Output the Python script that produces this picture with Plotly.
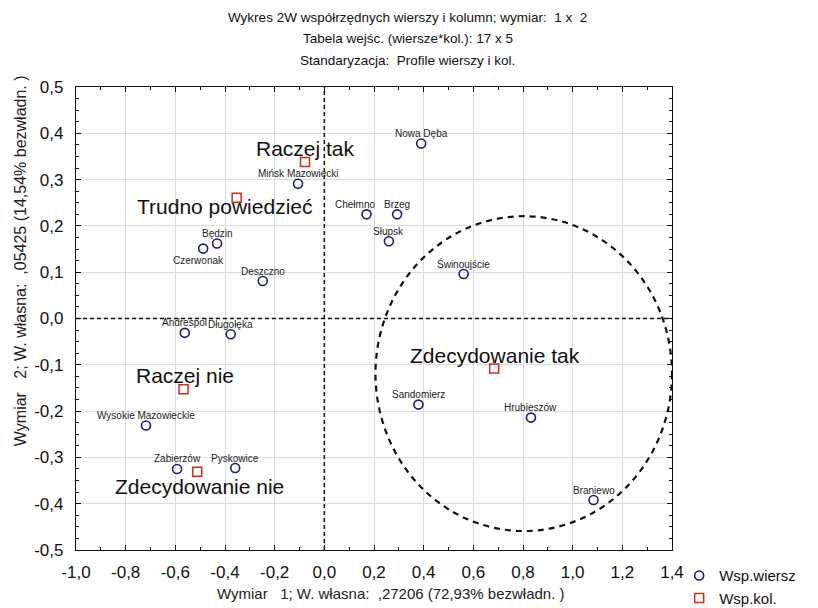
import plotly.graph_objects as go

# ---- data ----
row_names = ["Nowa Dęba", "Mińsk Mazowiecki", "Chełmno", "Brzeg", "Słupsk", "Świnoujście",
             "Będzin", "Czerwonak", "Deszczno", "Andrespol", "Długołęka", "Wysokie Mazowieckie",
             "Zabierzów", "Pyskowice", "Sandomierz", "Hrubieszów", "Braniewo"]
row_x = [0.390, -0.106, 0.170, 0.293, 0.260, 0.561, -0.432, -0.488, -0.248, -0.562, -0.377,
         -0.718, -0.593, -0.359, 0.379, 0.832, 1.084]
row_y = [0.378, 0.291, 0.225, 0.225, 0.167, 0.096, 0.162, 0.151, 0.081, -0.031, -0.034,
         -0.231, -0.325, -0.323, -0.186, -0.214, -0.392]

col_names = ["Raczej tak", "Trudno powiedzieć", "Raczej nie", "Zdecydowanie nie", "Zdecydowanie tak"]
col_x = [-0.078, -0.353, -0.567, -0.512, 0.684]
col_y = [0.338, 0.261, -0.153, -0.331, -0.108]

x_ticks = [-1.0, -0.8, -0.6, -0.4, -0.2, 0.0, 0.2, 0.4, 0.6, 0.8, 1.0, 1.2, 1.4]
x_tick_labels = ["-1,0", "-0,8", "-0,6", "-0,4", "-0,2", "0,0", "0,2", "0,4", "0,6", "0,8", "1,0", "1,2", "1,4"]
y_ticks = [-0.5, -0.4, -0.3, -0.2, -0.1, 0.0, 0.1, 0.2, 0.3, 0.4, 0.5]
y_tick_labels = ["-0,5", "-0,4", "-0,3", "-0,2", "-0,1", "0,0", "0,1", "0,2", "0,3", "0,4", "0,5"]

# highlighted cluster (ellipse bounds in data units)
ellipse_x = [0.206, 1.40]
ellipse_y = [-0.459, 0.221]

title_lines = ["Wykres 2W współrzędnych wierszy i kolumn; wymiar:  1 x  2",
               "Tabela wejśc. (wiersze*kol.): 17 x 5",
               "Standaryzacja:  Profile wierszy i kol."]
x_title = "Wymiar   1; W. własna:  ,27206 (72,93% bezwładn. )"
y_title = "Wymiar   2; W. własna:  ,05425 (14,54% bezwładn. )"

FONT = "Liberation Sans, Arial, sans-serif"

# label offsets (styling, pixels)
row_shift = {"Czerwonak": (-5, -12), "Chełmno": (-12, 10)}
col_shift = {"Raczej tak": (1, 14), "Trudno powiedzieć": (-12, -9), "Raczej nie": (1, 14),
             "Zdecydowanie nie": (2, -15), "Zdecydowanie tak": (1, 13)}

fig = go.Figure()
fig.add_trace(go.Scatter(x=row_x, y=row_y, mode="markers", name="Wsp.wiersz",
                         marker=dict(symbol="circle-open", size=9, color="#1c1c78",
                                     line=dict(width=1.6, color="#1c1c78"))))
fig.add_trace(go.Scatter(x=col_x, y=col_y, mode="markers", name="Wsp.kol.",
                         marker=dict(symbol="square-open", size=9, color="#d42a1e",
                                     line=dict(width=1.5, color="#d42a1e"))))

ann = []
for n, x, y in zip(row_names, row_x, row_y):
    dx, dy = row_shift.get(n, (0, 10))
    ann.append(dict(x=x, y=y, xref="x", yref="y", text=n, showarrow=False,
                    xshift=dx, yshift=dy, xanchor="center", yanchor="middle",
                    font=dict(family=FONT, size=10, color="#222")))
for n, x, y in zip(col_names, col_x, col_y):
    dx, dy = col_shift.get(n, (0, 14))
    ann.append(dict(x=x, y=y, xref="x", yref="y", text=n, showarrow=False,
                    xshift=dx, yshift=dy, xanchor="center", yanchor="middle",
                    font=dict(family=FONT, size=21, color="#111")))
# title lines
for i, t in enumerate(title_lines):
    ann.append(dict(x=0.557, y=1.151 - i * 0.0465, xref="paper", yref="paper", text=t,
                    showarrow=False, xanchor="center", yanchor="middle",
                    font=dict(family=FONT, size=13.5, color="#111")))
ann.append(dict(x=0.528, y=-0.093, xref="paper", yref="paper", text=x_title, showarrow=False,
                xanchor="center", yanchor="middle", font=dict(family=FONT, size=15, color="#222")))
ann.append(dict(x=-0.094, y=0.626, xref="paper", yref="paper", text=y_title, showarrow=False,
                textangle=-90, xanchor="center", yanchor="middle",
                font=dict(family=FONT, size=16, color="#222")))

shapes = [
    dict(type="line", xref="x", yref="paper", x0=0, x1=0, y0=0, y1=1,
         line=dict(color="#111", width=1.5, dash="4px,3px")),
    dict(type="line", xref="paper", yref="y", x0=0, x1=1, y0=0, y1=0,
         line=dict(color="#111", width=1.5, dash="4px,3px")),
    dict(type="circle", xref="x", yref="y", x0=ellipse_x[0], x1=ellipse_x[1],
         y0=ellipse_y[0], y1=ellipse_y[1], line=dict(color="#111", width=2.2, dash="6px,5px")),
]

axis_common = dict(showline=True, linecolor="#111", linewidth=1.2, mirror="allticks",
                   ticks="inside", ticklen=5, tickcolor="#111", showgrid=True,
                   gridcolor="#dcdcdc", gridwidth=1, zeroline=False, automargin=False,
                   tickfont=dict(family=FONT, size=17, color="#111"))

# the page body adds an 8px offset, so the figure is 8px smaller on each axis
fig.update_layout(
    width=810, height=600,
    margin=dict(l=68, r=146, t=79, b=58, autoexpand=False),
    paper_bgcolor="white", plot_bgcolor="white",
    showlegend=True,
    legend=dict(x=1.012, y=-0.02, xanchor="left", yanchor="top",
                font=dict(family=FONT, size=15, color="#111"), bgcolor="rgba(0,0,0,0)",
                tracegroupgap=0, itemwidth=30),
    xaxis=dict(range=[-1.0, 1.4], tickvals=x_ticks, ticktext=x_tick_labels,
               minor=dict(dtick=0.1, ticks="inside", ticklen=3, tickcolor="#111", showgrid=False),
               ticklabelstandoff=6, **axis_common),
    yaxis=dict(range=[-0.5, 0.5], tickvals=y_ticks, ticktext=y_tick_labels,
               minor=dict(dtick=0.025, ticks="inside", ticklen=3, tickcolor="#111", showgrid=False),
               ticklabelstandoff=8, **axis_common),
    annotations=ann, shapes=shapes,
)

fig.write_html("out.html")
